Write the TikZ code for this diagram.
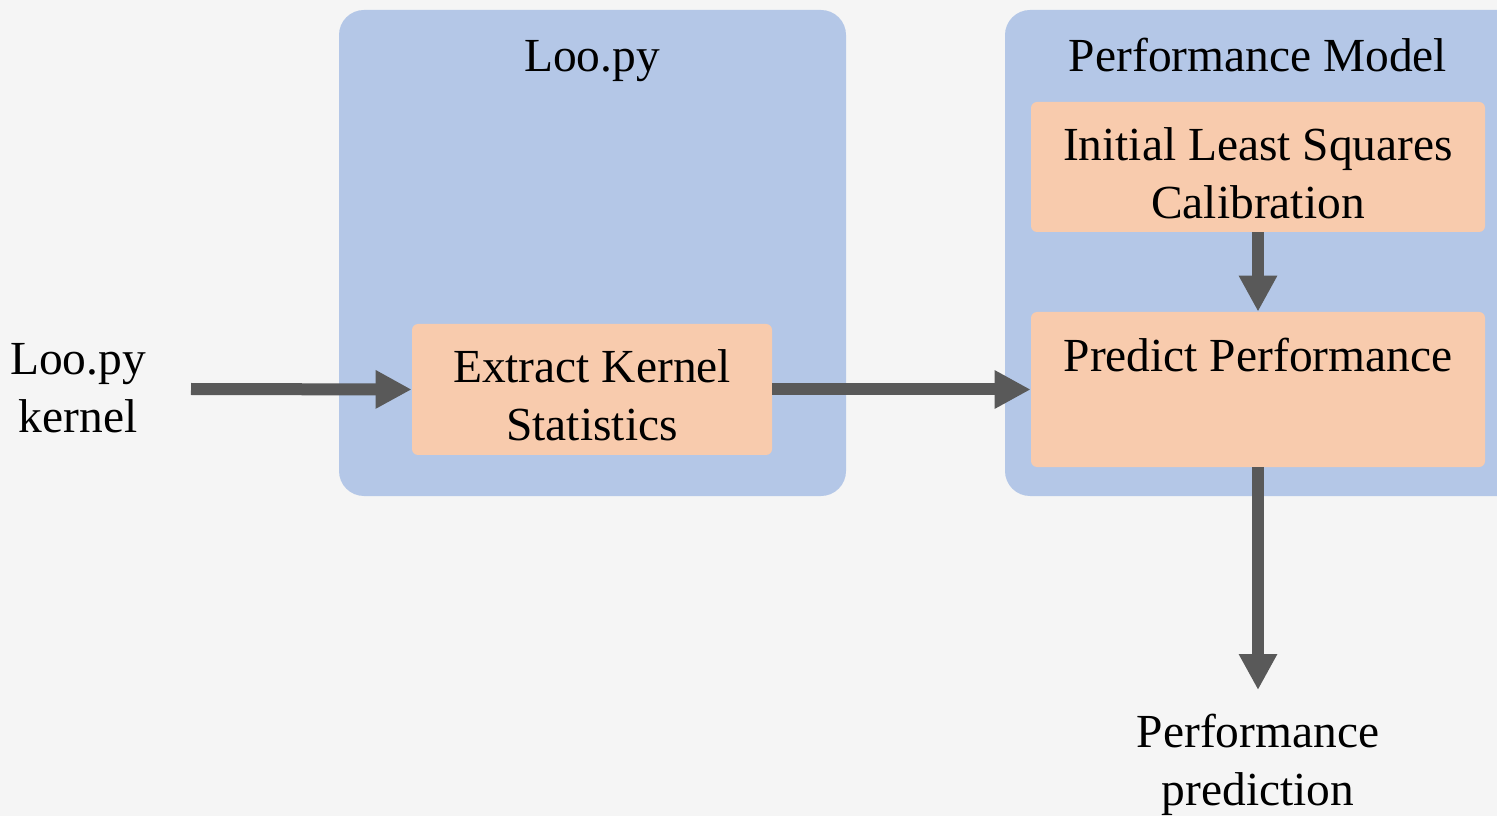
\documentclass[tikz,border=0pt]{standalone}
\usepackage{fontspec}
\setmainfont{Liberation Serif}
\usetikzlibrary{arrows.meta,positioning,calc}
\definecolor{bgGrey}{HTML}{F5F5F5}
\definecolor{groupBlue}{HTML}{B4C7E7}
\definecolor{stepOrange}{HTML}{F8CBAD}
\definecolor{arrowGrey}{HTML}{595959}

\begin{document}
\begin{tikzpicture}
\tikzset{
    txt/.style={font=\fontsize{27}{33}\selectfont, align=center, inner sep=0pt},
    group/.style={fill=groupBlue, rounded corners=0.5cm, draw=none},
    proc/.style={fill=stepOrange, rounded corners=0.12cm, draw=none, txt},
    flow/.style={-{Triangle[length=0.72cm,width=0.72cm]}, line width=0.24cm, draw=arrowGrey}
}
% background
\fill[bgGrey] (0,0) rectangle (29.94,-16.32);
\useasboundingbox (0,0) rectangle (29.94,-16.32);
% groups
\node[group, minimum width=10.14cm, minimum height=9.72cm] (loopy) at (11.85,-5.06) {};
\node[group, minimum width=10.4cm, minimum height=9.72cm] (perf) at (25.3,-5.06) {};
\node[txt, anchor=base] (loopyTitle) at (11.84,-1.44) {Loo.py};
\node[txt, anchor=base] (perfTitle) at (25.16,-1.44) {Performance Model};
% steps
\node[proc, minimum width=7.2cm, minimum height=2.62cm, text height=2.05cm] (extract) at (11.84,-7.79) {Extract Kernel\\Statistics};
\node[proc, minimum width=9.08cm, minimum height=2.6cm, text height=2.05cm] (calib) at (25.16,-3.34) {Initial Least Squares\\Calibration};
\node[proc, minimum width=9.08cm, minimum height=3.1cm] (predict) at (25.16,-7.79) {};
\node[txt] (predictLabel) at (25.16,-7.11) {Predict Performance};
% inputs and outputs
\node[txt] (kernel) at (1.56,-7.76) {Loo.py\\kernel};
\node[txt] (prediction) at (25.16,-15.3) {Performance\\prediction};
\coordinate (kernelEnd) at (3.82,-7.78);
\coordinate (predEnd) at (25.16,-13.8);
% edges
\path
(kernelEnd) edge[flow] (extract.west)
(extract.east) edge[flow] (predict.west)
(calib.south) edge[flow] (predict.north)
(predict.south) edge[flow] (predEnd)
;
\end{tikzpicture}
\end{document}
